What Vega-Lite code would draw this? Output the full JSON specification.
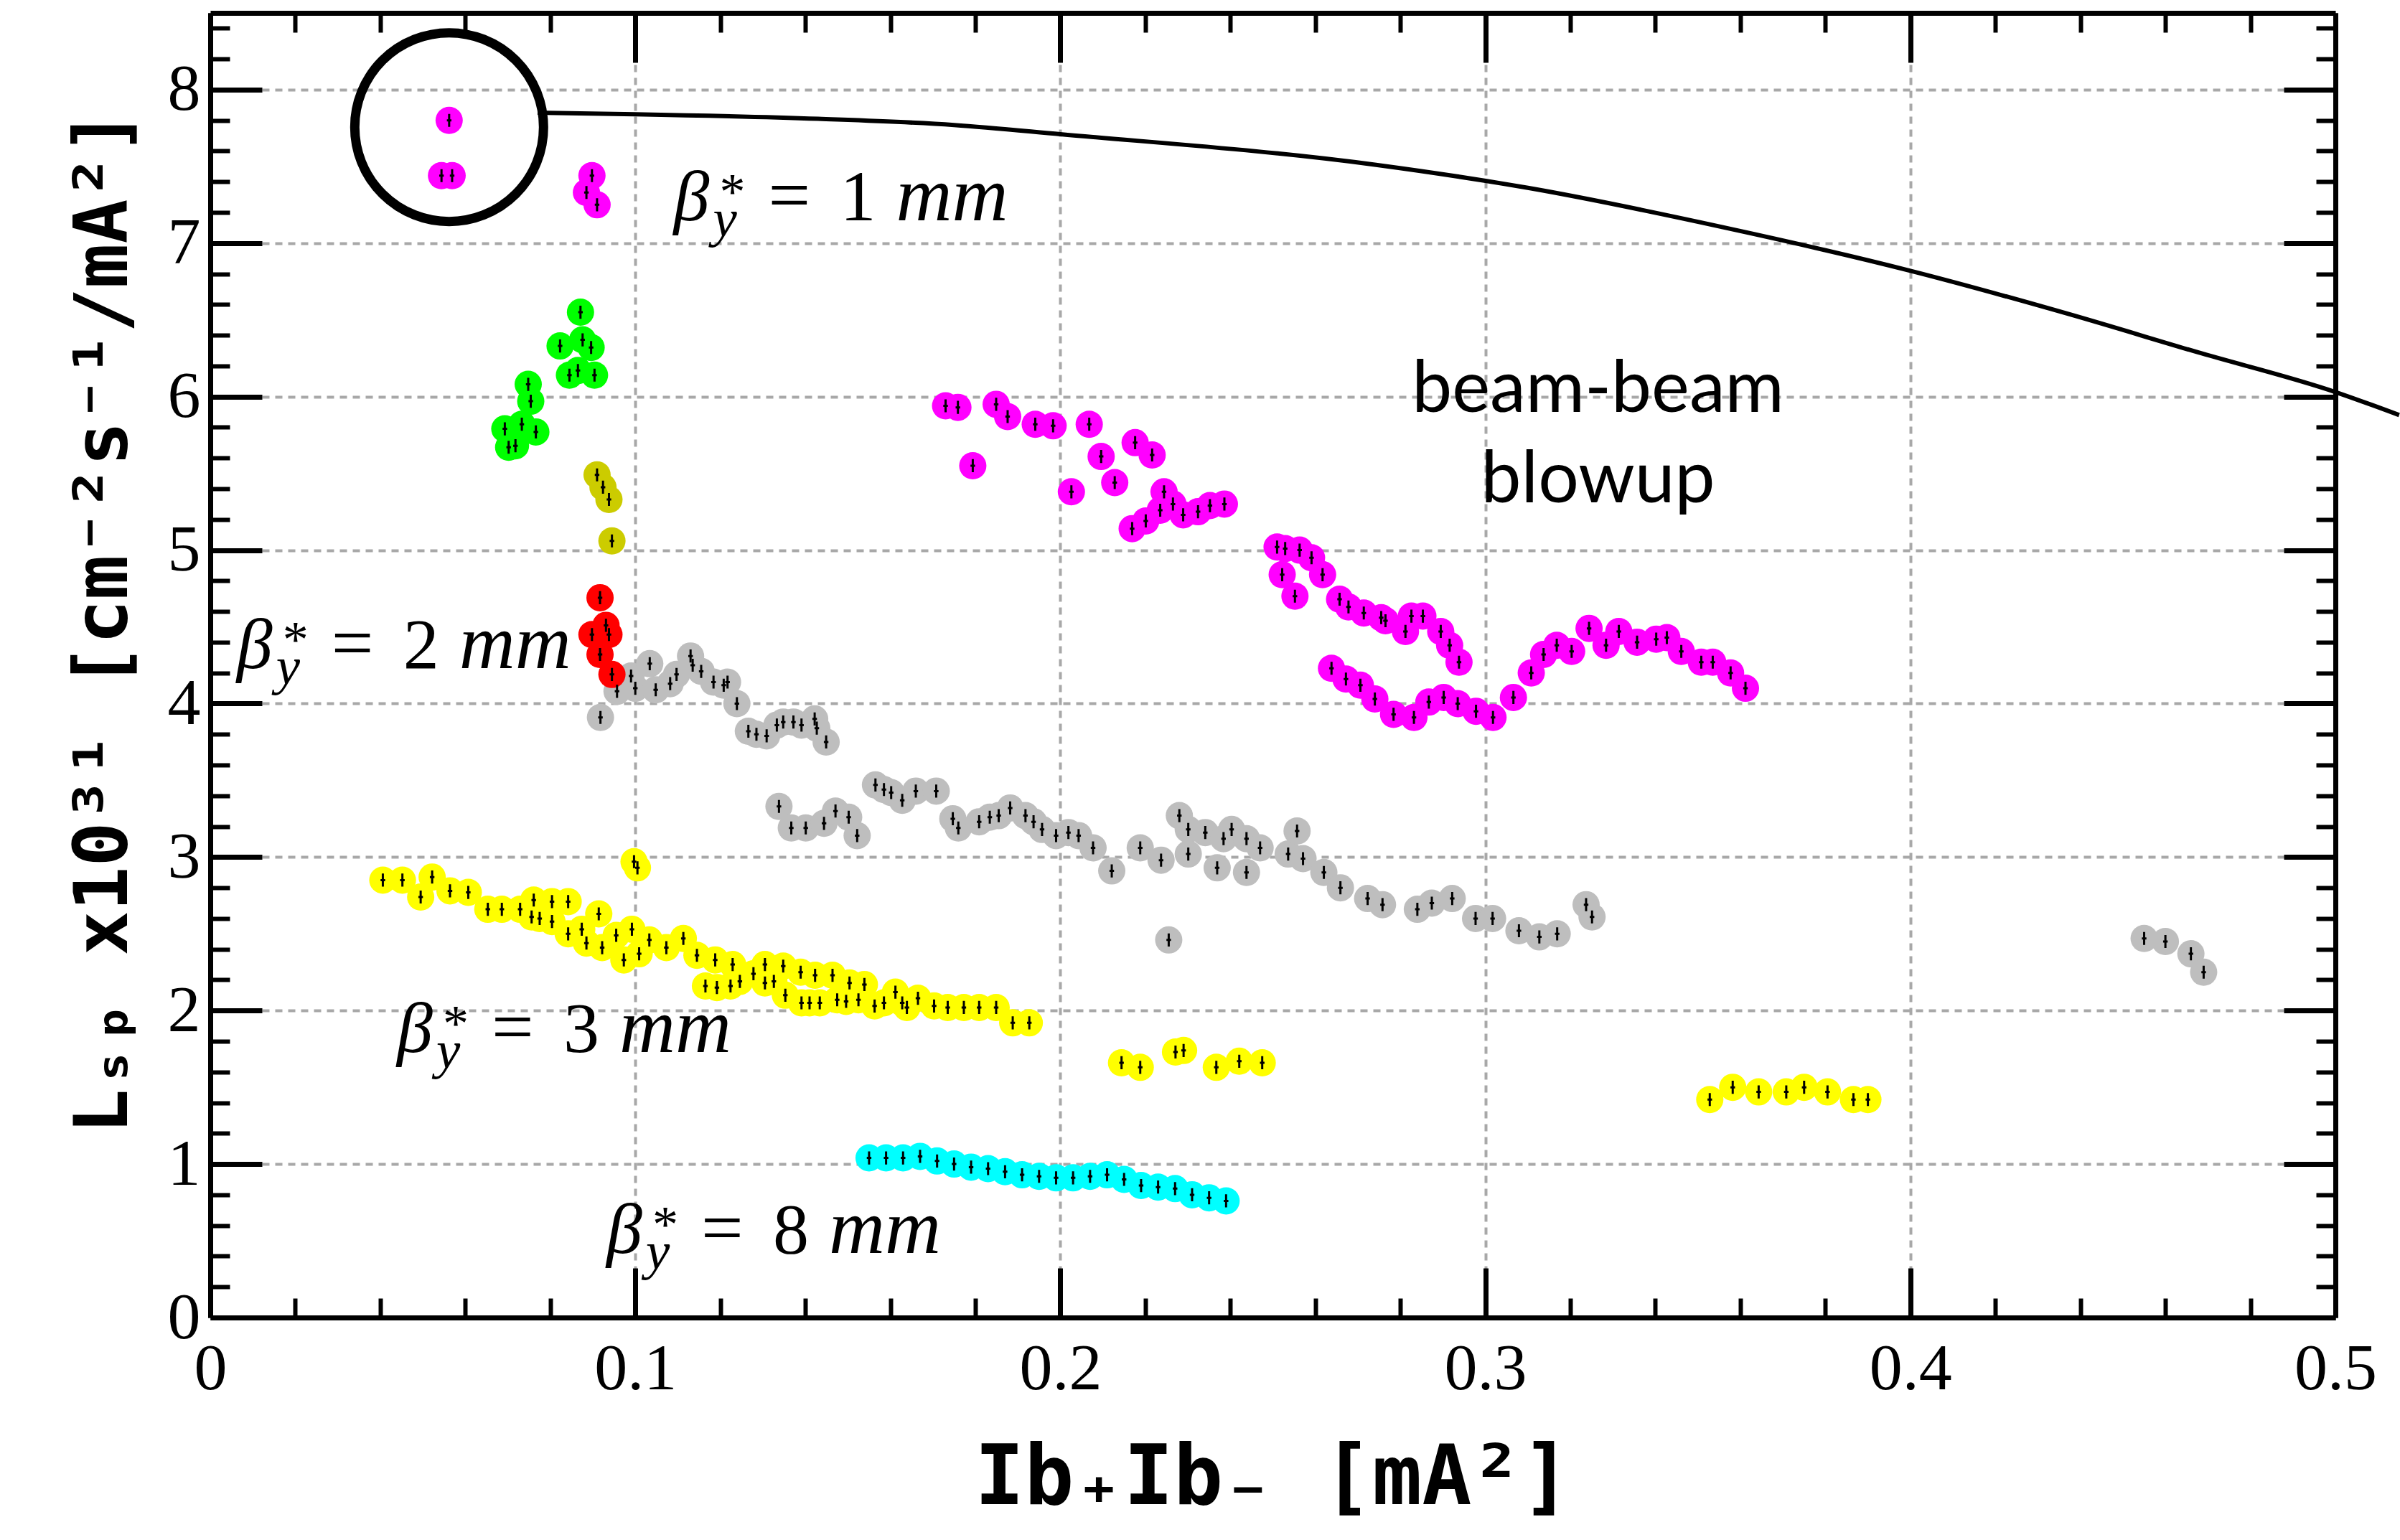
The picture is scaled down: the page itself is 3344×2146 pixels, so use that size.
{
  "$schema": "https://vega.github.io/schema/vega-lite/v6.json",
  "width": 2961,
  "height": 1818,
  "autosize": {"type": "none"},
  "padding": {"left": 293, "top": 18, "right": 90, "bottom": 310},
  "background": "white",
  "config": {"view": {"stroke": null}},
  "datasets": {
    "pts": [
      {"x":0.0918,"y":3.91,"s":"k"},{"x":0.0957,"y":4.08,"s":"k"},{"x":0.099,"y":4.18,"s":"k"},{"x":0.1,"y":4.1,"s":"k"},{"x":0.1034,"y":4.26,"s":"k"},{"x":0.1048,"y":4.09,"s":"k"},{"x":0.1082,"y":4.13,"s":"k"},{"x":0.1097,"y":4.19,"s":"k"},{"x":0.113,"y":4.31,"s":"k"},{"x":0.1135,"y":4.25,"s":"k"},{"x":0.1155,"y":4.21,"s":"k"},{"x":0.1184,"y":4.14,"s":"k"},{"x":0.1208,"y":4.12,"s":"k"},{"x":0.1217,"y":4.14,"s":"k"},{"x":0.1239,"y":4.0,"s":"k"},
      {"x":0.1266,"y":3.82,"s":"k"},{"x":0.1285,"y":3.8,"s":"k"},{"x":0.1309,"y":3.79,"s":"k"},{"x":0.1333,"y":3.86,"s":"k"},{"x":0.1348,"y":3.88,"s":"k"},{"x":0.1372,"y":3.88,"s":"k"},{"x":0.1391,"y":3.86,"s":"k"},{"x":0.1422,"y":3.9,"s":"k"},{"x":0.1427,"y":3.84,"s":"k"},{"x":0.1449,"y":3.75,"s":"k"},
      {"x":0.1338,"y":3.33,"s":"k"},{"x":0.1367,"y":3.19,"s":"k"},{"x":0.1401,"y":3.19,"s":"k"},{"x":0.1444,"y":3.22,"s":"k"},{"x":0.1471,"y":3.3,"s":"k"},{"x":0.1502,"y":3.26,"s":"k"},{"x":0.1522,"y":3.14,"s":"k"},
      {"x":0.1565,"y":3.47,"s":"k"},{"x":0.1585,"y":3.44,"s":"k"},{"x":0.1602,"y":3.42,"s":"k"},{"x":0.1628,"y":3.37,"s":"k"},{"x":0.166,"y":3.43,"s":"k"},{"x":0.1708,"y":3.43,"s":"k"},
      {"x":0.1747,"y":3.25,"s":"k"},{"x":0.176,"y":3.19,"s":"k"},{"x":0.1809,"y":3.23,"s":"k"},{"x":0.1834,"y":3.26,"s":"k"},{"x":0.1855,"y":3.27,"s":"k"},{"x":0.1882,"y":3.32,"s":"k"},{"x":0.1918,"y":3.27,"s":"k"},{"x":0.1937,"y":3.23,"s":"k"},{"x":0.1957,"y":3.18,"s":"k"},{"x":0.199,"y":3.14,"s":"k"},{"x":0.2019,"y":3.16,"s":"k"},{"x":0.2043,"y":3.14,"s":"k"},{"x":0.2077,"y":3.06,"s":"k"},{"x":0.2121,"y":2.91,"s":"k"},{"x":0.2188,"y":3.06,"s":"k"},{"x":0.2237,"y":2.98,"s":"k"},{"x":0.228,"y":3.27,"s":"k"},{"x":0.2301,"y":3.18,"s":"k"},{"x":0.2301,"y":3.02,"s":"k"},{"x":0.2255,"y":2.46,"s":"k"},
      {"x":0.2341,"y":3.16,"s":"k"},{"x":0.2384,"y":3.12,"s":"k"},{"x":0.2403,"y":3.18,"s":"k"},{"x":0.2369,"y":2.93,"s":"k"},{"x":0.2438,"y":3.12,"s":"k"},{"x":0.2438,"y":2.9,"s":"k"},{"x":0.247,"y":3.06,"s":"k"},{"x":0.2536,"y":3.02,"s":"k"},{"x":0.2557,"y":3.17,"s":"k"},{"x":0.2571,"y":2.99,"s":"k"},{"x":0.262,"y":2.9,"s":"k"},{"x":0.2659,"y":2.8,"s":"k"},{"x":0.2723,"y":2.73,"s":"k"},{"x":0.2758,"y":2.69,"s":"k"},{"x":0.284,"y":2.66,"s":"k"},{"x":0.2874,"y":2.7,"s":"k"},{"x":0.2922,"y":2.73,"s":"k"},{"x":0.2977,"y":2.6,"s":"k"},{"x":0.3017,"y":2.6,"s":"k"},{"x":0.3079,"y":2.52,"s":"k"},{"x":0.3127,"y":2.48,"s":"k"},{"x":0.3169,"y":2.5,"s":"k"},{"x":0.3237,"y":2.69,"s":"k"},{"x":0.3251,"y":2.61,"s":"k"},
      {"x":0.455,"y":2.47,"s":"k"},{"x":0.46,"y":2.45,"s":"k"},{"x":0.466,"y":2.37,"s":"k"},{"x":0.469,"y":2.25,"s":"k"},
      {"x":0.0406,"y":2.85,"s":"y"},{"x":0.0452,"y":2.85,"s":"y"},{"x":0.0495,"y":2.74,"s":"y"},{"x":0.0522,"y":2.87,"s":"y"},{"x":0.0564,"y":2.78,"s":"y"},{"x":0.0607,"y":2.77,"s":"y"},{"x":0.0653,"y":2.66,"s":"y"},{"x":0.0686,"y":2.66,"s":"y"},{"x":0.0729,"y":2.66,"s":"y"},{"x":0.0761,"y":2.72,"s":"y"},{"x":0.0756,"y":2.61,"s":"y"},{"x":0.0775,"y":2.6,"s":"y"},{"x":0.0804,"y":2.71,"s":"y"},{"x":0.0804,"y":2.58,"s":"y"},{"x":0.0842,"y":2.71,"s":"y"},{"x":0.0842,"y":2.5,"s":"y"},{"x":0.0874,"y":2.53,"s":"y"},{"x":0.0885,"y":2.44,"s":"y"},{"x":0.0914,"y":2.63,"s":"y"},{"x":0.0922,"y":2.41,"s":"y"},{"x":0.0955,"y":2.49,"s":"y"},{"x":0.0973,"y":2.33,"s":"y"},{"x":0.0992,"y":2.53,"s":"y"},{"x":0.1009,"y":2.37,"s":"y"},{"x":0.1033,"y":2.46,"s":"y"},{"x":0.1073,"y":2.41,"s":"y"},{"x":0.1113,"y":2.47,"s":"y"},{"x":0.1145,"y":2.36,"s":"y"},{"x":0.1188,"y":2.33,"s":"y"},{"x":0.1229,"y":2.3,"s":"y"},
      {"x":0.1165,"y":2.16,"s":"y"},{"x":0.1192,"y":2.15,"s":"y"},{"x":0.1224,"y":2.16,"s":"y"},{"x":0.1246,"y":2.19,"s":"y"},{"x":0.1278,"y":2.24,"s":"y"},{"x":0.1305,"y":2.3,"s":"y"},{"x":0.1305,"y":2.18,"s":"y"},{"x":0.1326,"y":2.19,"s":"y"},{"x":0.1348,"y":2.29,"s":"y"},{"x":0.1353,"y":2.1,"s":"y"},{"x":0.1389,"y":2.25,"s":"y"},{"x":0.1423,"y":2.23,"s":"y"},{"x":0.1464,"y":2.23,"s":"y"},{"x":0.1504,"y":2.18,"s":"y"},{"x":0.1391,"y":2.05,"s":"y"},{"x":0.141,"y":2.05,"s":"y"},{"x":0.1434,"y":2.05,"s":"y"},{"x":0.1475,"y":2.07,"s":"y"},{"x":0.1496,"y":2.06,"s":"y"},{"x":0.1525,"y":2.07,"s":"y"},{"x":0.1539,"y":2.17,"s":"y"},{"x":0.1563,"y":2.03,"s":"y"},{"x":0.1585,"y":2.05,"s":"y"},{"x":0.1612,"y":2.12,"s":"y"},{"x":0.1628,"y":2.05,"s":"y"},{"x":0.1639,"y":2.02,"s":"y"},{"x":0.1665,"y":2.08,"s":"y"},{"x":0.1703,"y":2.03,"s":"y"},{"x":0.1735,"y":2.02,"s":"y"},{"x":0.1773,"y":2.02,"s":"y"},{"x":0.1809,"y":2.02,"s":"y"},{"x":0.1849,"y":2.02,"s":"y"},{"x":0.1888,"y":1.92,"s":"y"},{"x":0.1927,"y":1.92,"s":"y"},{"x":0.0997,"y":2.97,"s":"y"},{"x":0.1005,"y":2.93,"s":"y"},
      {"x":0.2144,"y":1.66,"s":"y"},{"x":0.2188,"y":1.63,"s":"y"},{"x":0.2271,"y":1.73,"s":"y"},{"x":0.229,"y":1.74,"s":"y"},{"x":0.2367,"y":1.63,"s":"y"},{"x":0.2421,"y":1.67,"s":"y"},{"x":0.2475,"y":1.66,"s":"y"},
      {"x":0.3528,"y":1.42,"s":"y"},{"x":0.3582,"y":1.5,"s":"y"},{"x":0.3643,"y":1.47,"s":"y"},{"x":0.3708,"y":1.47,"s":"y"},{"x":0.375,"y":1.5,"s":"y"},{"x":0.3805,"y":1.47,"s":"y"},{"x":0.3866,"y":1.42,"s":"y"},{"x":0.39,"y":1.42,"s":"y"},
      {"x":0.155,"y":1.04,"s":"c"},{"x":0.159,"y":1.04,"s":"c"},{"x":0.163,"y":1.04,"s":"c"},{"x":0.167,"y":1.05,"s":"c"},{"x":0.171,"y":1.02,"s":"c"},{"x":0.175,"y":1.0,"s":"c"},{"x":0.179,"y":0.98,"s":"c"},{"x":0.183,"y":0.97,"s":"c"},{"x":0.187,"y":0.95,"s":"c"},{"x":0.191,"y":0.93,"s":"c"},{"x":0.195,"y":0.92,"s":"c"},{"x":0.199,"y":0.91,"s":"c"},{"x":0.203,"y":0.91,"s":"c"},{"x":0.207,"y":0.92,"s":"c"},{"x":0.211,"y":0.93,"s":"c"},{"x":0.215,"y":0.9,"s":"c"},{"x":0.219,"y":0.86,"s":"c"},{"x":0.223,"y":0.85,"s":"c"},{"x":0.227,"y":0.84,"s":"c"},{"x":0.231,"y":0.8,"s":"c"},{"x":0.235,"y":0.78,"s":"c"},{"x":0.239,"y":0.76,"s":"c"},
      {"x":0.0562,"y":7.8,"s":"m"},{"x":0.0544,"y":7.44,"s":"m"},{"x":0.0569,"y":7.44,"s":"m"},{"x":0.0898,"y":7.44,"s":"m"},{"x":0.0885,"y":7.33,"s":"m"},{"x":0.091,"y":7.25,"s":"m"},
      {"x":0.173,"y":5.94,"s":"m"},{"x":0.1759,"y":5.93,"s":"m"},{"x":0.1794,"y":5.55,"s":"m"},{"x":0.1849,"y":5.95,"s":"m"},{"x":0.1876,"y":5.87,"s":"m"},{"x":0.1941,"y":5.82,"s":"m"},{"x":0.1983,"y":5.81,"s":"m"},{"x":0.2068,"y":5.82,"s":"m"},{"x":0.2026,"y":5.38,"s":"m"},{"x":0.2096,"y":5.61,"s":"m"},{"x":0.2176,"y":5.7,"s":"m"},{"x":0.2216,"y":5.62,"s":"m"},{"x":0.2128,"y":5.44,"s":"m"},{"x":0.2169,"y":5.14,"s":"m"},{"x":0.2201,"y":5.19,"s":"m"},{"x":0.2235,"y":5.26,"s":"m"},{"x":0.2244,"y":5.38,"s":"m"},{"x":0.2265,"y":5.3,"s":"m"},{"x":0.2289,"y":5.23,"s":"m"},{"x":0.2324,"y":5.25,"s":"m"},{"x":0.2352,"y":5.29,"s":"m"},{"x":0.2386,"y":5.3,"s":"m"},
      {"x":0.251,"y":5.02,"s":"m"},{"x":0.2529,"y":5.01,"s":"m"},{"x":0.2563,"y":5.0,"s":"m"},{"x":0.2591,"y":4.95,"s":"m"},{"x":0.2522,"y":4.84,"s":"m"},{"x":0.2552,"y":4.7,"s":"m"},{"x":0.2617,"y":4.84,"s":"m"},{"x":0.2657,"y":4.68,"s":"m"},{"x":0.2678,"y":4.63,"s":"m"},{"x":0.2714,"y":4.59,"s":"m"},{"x":0.2755,"y":4.56,"s":"m"},{"x":0.2765,"y":4.54,"s":"m"},{"x":0.2812,"y":4.47,"s":"m"},{"x":0.2826,"y":4.57,"s":"m"},{"x":0.2853,"y":4.57,"s":"m"},{"x":0.2895,"y":4.47,"s":"m"},{"x":0.2916,"y":4.38,"s":"m"},{"x":0.2938,"y":4.27,"s":"m"},
      {"x":0.2638,"y":4.23,"s":"m"},{"x":0.2672,"y":4.16,"s":"m"},{"x":0.2706,"y":4.12,"s":"m"},{"x":0.274,"y":4.03,"s":"m"},{"x":0.2784,"y":3.93,"s":"m"},{"x":0.2832,"y":3.91,"s":"m"},{"x":0.2867,"y":4.01,"s":"m"},{"x":0.2902,"y":4.04,"s":"m"},{"x":0.2935,"y":4.0,"s":"m"},{"x":0.2978,"y":3.95,"s":"m"},{"x":0.3018,"y":3.91,"s":"m"},{"x":0.3066,"y":4.04,"s":"m"},{"x":0.3108,"y":4.2,"s":"m"},{"x":0.3137,"y":4.32,"s":"m"},{"x":0.3168,"y":4.38,"s":"m"},{"x":0.3203,"y":4.34,"s":"m"},{"x":0.3244,"y":4.49,"s":"m"},{"x":0.3284,"y":4.38,"s":"m"},{"x":0.3314,"y":4.47,"s":"m"},{"x":0.3357,"y":4.4,"s":"m"},{"x":0.3402,"y":4.42,"s":"m"},{"x":0.3427,"y":4.43,"s":"m"},{"x":0.3461,"y":4.34,"s":"m"},{"x":0.3508,"y":4.27,"s":"m"},{"x":0.3535,"y":4.27,"s":"m"},{"x":0.3577,"y":4.2,"s":"m"},{"x":0.3612,"y":4.1,"s":"m"},
      {"x":0.0871,"y":6.55,"s":"g"},{"x":0.0823,"y":6.33,"s":"g"},{"x":0.0876,"y":6.37,"s":"g"},{"x":0.0896,"y":6.32,"s":"g"},{"x":0.0845,"y":6.14,"s":"g"},{"x":0.0865,"y":6.17,"s":"g"},{"x":0.0904,"y":6.14,"s":"g"},{"x":0.0748,"y":6.08,"s":"g"},{"x":0.0754,"y":5.97,"s":"g"},{"x":0.0733,"y":5.82,"s":"g"},{"x":0.0693,"y":5.79,"s":"g"},{"x":0.0766,"y":5.77,"s":"g"},{"x":0.0702,"y":5.67,"s":"g"},{"x":0.0718,"y":5.68,"s":"g"},
      {"x":0.091,"y":5.49,"s":"o"},{"x":0.0924,"y":5.41,"s":"o"},{"x":0.0938,"y":5.33,"s":"o"},{"x":0.0945,"y":5.06,"s":"o"},
      {"x":0.0917,"y":4.69,"s":"r"},{"x":0.0931,"y":4.51,"s":"r"},{"x":0.0898,"y":4.45,"s":"r"},{"x":0.0938,"y":4.45,"s":"r"},{"x":0.0917,"y":4.32,"s":"r"},{"x":0.0945,"y":4.19,"s":"r"}
    ],
    "curve": [
      {"x":0.077,"y":7.85},{"x":0.1,"y":7.84},{"x":0.143,"y":7.81},{"x":0.175,"y":7.77},{"x":0.2,"y":7.71},{"x":0.2743,"y":7.51},{"x":0.31,"y":7.36},{"x":0.3557,"y":7.105},{"x":0.4,"y":6.82},{"x":0.437,"y":6.54},{"x":0.4675,"y":6.29},{"x":0.5,"y":6.03},{"x":0.515,"y":5.88}
    ],
    "ring": [{"x":0.0562,"y":7.756}],
    "labels": [
      {"x":0.109,"y":7.15,"n":"1"},{"x":0.0062,"y":4.23,"n":"2"},{"x":0.0439,"y":1.73,"n":"3"},{"x":0.0932,"y":0.42,"n":"8"}
    ],
    "note": [{"x":0.3265,"y":5.9,"t":"beam-beam\nblowup"}]
  },
  "layer": [
    {
      "data": {"name": "pts"},
      "mark": {"type": "point", "shape": "circle", "filled": true, "size": 1444, "opacity": 1},
      "encoding": {
        "x": {"field": "x", "type": "quantitative", "scale": {"domain": [0, 0.5], "nice": false, "zero": false},
          "axis": {"orient": "bottom", "values": [0, 0.1, 0.2, 0.3, 0.4, 0.5], "format": ".1~f",
            "labelFont": "Liberation Serif", "labelFontSize": 92, "labelColor": "black", "labelPadding": 95,
            "labelFlush": false, "labelOverlap": false, "labelBound": false,
            "tickSize": -69, "tickWidth": 7, "tickColor": "black",
            "domain": true, "domainColor": "black", "domainWidth": 7,
            "grid": true, "gridColor": "#a8a8a8", "gridDash": [10, 8], "gridWidth": 4,
            "title": "Ib₊Ib₋ [mA²]", "titleFont": "DejaVu Sans Mono", "titleFontWeight": "bold", "titleFontSize": 115, "titleColor": "black",
            "titleX": 1480, "titleY": 259, "titleAlign": "center", "titleBaseline": "alphabetic"}},
        "y": {"field": "y", "type": "quantitative", "scale": {"domain": [0, 8.5], "nice": false, "zero": false},
          "axis": {"orient": "left", "values": [0, 1, 2, 3, 4, 5, 6, 7, 8], "format": "d",
            "labelFont": "Liberation Serif", "labelFontSize": 92, "labelColor": "black", "labelPadding": 86,
            "labelFlush": false, "labelOverlap": false, "labelBound": false, "labelBaseline": "middle",
            "tickSize": -72, "tickWidth": 7, "tickColor": "black",
            "domain": true, "domainColor": "black", "domainWidth": 7,
            "grid": true, "gridColor": "#a8a8a8", "gridDash": [10, 8], "gridWidth": 4,
            "title": "Lₛₚ x10³¹ [cm⁻²s⁻¹/mA²]", "titleFont": "DejaVu Sans Mono", "titleFontWeight": "bold", "titleFontSize": 103, "titleColor": "black",
            "titleX": -148, "titleY": 848, "titleAngle": -90, "titleAlign": "center", "titleBaseline": "middle"}},
        "color": {"field": "s", "type": "nominal",
          "scale": {"domain": ["m", "g", "o", "r", "k", "y", "c"], "range": ["#ff00ff", "#00ff00", "#cccc00", "#ff0000", "#bebebe", "#ffff00", "#00ffff"]},
          "legend": null}
      }
    },
    {
      "data": {"name": "pts"},
      "mark": {"type": "point", "shape": "M0,-1V1M-0.35,0H0.35", "filled": false, "size": 330, "stroke": "black", "color": "black", "strokeWidth": 3, "opacity": 1},
      "encoding": {
        "x": {"field": "x", "type": "quantitative", "scale": {"domain": [0, 0.5], "nice": false, "zero": false},
          "axis": {"orient": "bottom", "values": [0.02, 0.04, 0.06, 0.08, 0.12, 0.14, 0.16, 0.18, 0.22, 0.24, 0.26, 0.28, 0.32, 0.34, 0.36, 0.38, 0.42, 0.44, 0.46, 0.48],
            "labels": false, "tickSize": -27, "tickWidth": 6, "tickColor": "black", "domain": false, "grid": false, "title": null}},
        "y": {"field": "y", "type": "quantitative", "scale": {"domain": [0, 8.5], "nice": false, "zero": false},
          "axis": {"orient": "left", "values": [0.2, 0.4, 0.6, 0.8, 1.2, 1.4, 1.6, 1.8, 2.2, 2.4, 2.6, 2.8, 3.2, 3.4, 3.6, 3.8, 4.2, 4.4, 4.6, 4.8, 5.2, 5.4, 5.6, 5.8, 6.2, 6.4, 6.6, 6.8, 7.2, 7.4, 7.6, 7.8, 8.2, 8.4],
            "labels": false, "tickSize": -27, "tickWidth": 6, "tickColor": "black", "domain": false, "grid": false, "title": null}}
      }
    },
    {
      "data": {"name": "curve"},
      "mark": {"type": "line", "color": "black", "strokeWidth": 6, "interpolate": "monotone", "clip": false},
      "encoding": {
        "x": {"field": "x", "type": "quantitative", "scale": {"domain": [0, 0.5], "nice": false, "zero": false},
          "axis": {"orient": "top", "values": [0, 0.1, 0.2, 0.3, 0.4, 0.5], "labels": false, "tickSize": -69, "tickWidth": 7, "tickColor": "black",
            "domain": true, "domainColor": "black", "domainWidth": 7, "grid": false, "title": null}},
        "y": {"field": "y", "type": "quantitative", "scale": {"domain": [0, 8.5], "nice": false, "zero": false},
          "axis": {"orient": "right", "values": [0, 1, 2, 3, 4, 5, 6, 7, 8], "labels": false, "tickSize": -72, "tickWidth": 7, "tickColor": "black",
            "domain": true, "domainColor": "black", "domainWidth": 7, "grid": false, "title": null}}
      }
    },
    {
      "data": {"name": "ring"},
      "mark": {"type": "point", "shape": "circle", "filled": false, "size": 69169, "stroke": "black", "strokeWidth": 13, "opacity": 1},
      "encoding": {
        "x": {"field": "x", "type": "quantitative", "scale": {"domain": [0, 0.5], "nice": false, "zero": false},
          "axis": {"orient": "top", "values": [0.02, 0.04, 0.06, 0.08, 0.12, 0.14, 0.16, 0.18, 0.22, 0.24, 0.26, 0.28, 0.32, 0.34, 0.36, 0.38, 0.42, 0.44, 0.46, 0.48],
            "labels": false, "tickSize": -27, "tickWidth": 6, "tickColor": "black", "domain": false, "grid": false, "title": null}},
        "y": {"field": "y", "type": "quantitative", "scale": {"domain": [0, 8.5], "nice": false, "zero": false},
          "axis": {"orient": "right", "values": [0.2, 0.4, 0.6, 0.8, 1.2, 1.4, 1.6, 1.8, 2.2, 2.4, 2.6, 2.8, 3.2, 3.4, 3.6, 3.8, 4.2, 4.4, 4.6, 4.8, 5.2, 5.4, 5.6, 5.8, 6.2, 6.4, 6.6, 6.8, 7.2, 7.4, 7.6, 7.8, 8.2, 8.4],
            "labels": false, "tickSize": -27, "tickWidth": 6, "tickColor": "black", "domain": false, "grid": false, "title": null}}
      }
    },
    {
      "data": {"name": "labels"},
      "mark": {"type": "text", "text": "β", "font": "Liberation Serif", "fontStyle": "italic", "fontSize": 100, "align": "left", "baseline": "alphabetic", "color": "black"},
      "encoding": {"x": {"field": "x", "type": "quantitative", "axis": null}, "y": {"field": "y", "type": "quantitative", "axis": null}}
    },
    {
      "data": {"name": "labels"},
      "mark": {"type": "text", "text": "*", "font": "Liberation Serif", "fontSize": 72, "align": "left", "baseline": "alphabetic", "dx": 64, "dy": -16, "color": "black"},
      "encoding": {"x": {"field": "x", "type": "quantitative", "axis": null}, "y": {"field": "y", "type": "quantitative", "axis": null}}
    },
    {
      "data": {"name": "labels"},
      "mark": {"type": "text", "text": "y", "font": "Liberation Serif", "fontStyle": "italic", "fontSize": 75, "align": "left", "baseline": "alphabetic", "dx": 55, "dy": 22, "color": "black"},
      "encoding": {"x": {"field": "x", "type": "quantitative", "axis": null}, "y": {"field": "y", "type": "quantitative", "axis": null}}
    },
    {
      "data": {"name": "labels"},
      "mark": {"type": "text", "text": "=", "font": "Liberation Serif", "fontSize": 104, "align": "left", "baseline": "alphabetic", "dx": 132, "color": "black"},
      "encoding": {"x": {"field": "x", "type": "quantitative", "axis": null}, "y": {"field": "y", "type": "quantitative", "axis": null}}
    },
    {
      "data": {"name": "labels"},
      "mark": {"type": "text", "font": "Liberation Serif", "fontSize": 100, "align": "left", "baseline": "alphabetic", "dx": 232, "color": "black"},
      "encoding": {"x": {"field": "x", "type": "quantitative", "axis": null}, "y": {"field": "y", "type": "quantitative", "axis": null}, "text": {"field": "n"}}
    },
    {
      "data": {"name": "labels"},
      "mark": {"type": "text", "text": "mm", "font": "Liberation Serif", "fontStyle": "italic", "fontSize": 108, "align": "left", "baseline": "alphabetic", "dx": 310, "color": "black"},
      "encoding": {"x": {"field": "x", "type": "quantitative", "axis": null}, "y": {"field": "y", "type": "quantitative", "axis": null}}
    },
    {
      "data": {"name": "note"},
      "mark": {"type": "text", "font": "Lato", "fontSize": 100, "align": "center", "baseline": "alphabetic", "lineBreak": "\n", "lineHeight": 126, "color": "black"},
      "encoding": {"x": {"field": "x", "type": "quantitative", "axis": null}, "y": {"field": "y", "type": "quantitative", "axis": null}, "text": {"field": "t"}}
    }
  ],
  "resolve": {"axis": {"x": "independent", "y": "independent"}}
}
